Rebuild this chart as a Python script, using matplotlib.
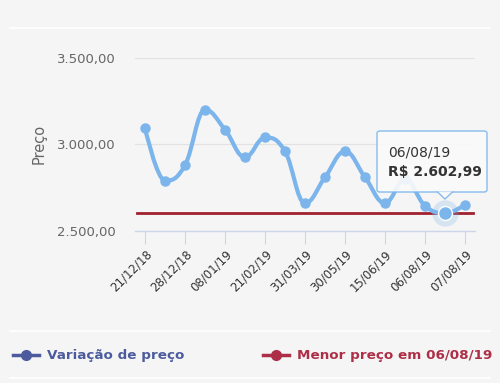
import numpy as np
import matplotlib.pyplot as plt
from matplotlib.path import Path
from matplotlib.patches import PathPatch, FancyBboxPatch, Polygon
from matplotlib.lines import Line2D

# price history (R$)
dates = ["21/12/18", "24/12/18", "28/12/18", "02/01/19", "08/01/19", "30/01/19",
         "21/02/19", "10/03/19", "31/03/19", "20/04/19", "30/05/19", "08/06/19",
         "15/06/19", "20/07/19", "06/08/19", "06/08/19", "07/08/19"]
prices = [3095, 2790, 2880, 3200, 3085, 2925, 3040, 2960, 2660, 2810,
          2960, 2810, 2660, 2800, 2645, 2602.99, 2650]
min_price = 2602.99
min_idx = 15

line_blue = "#7cb5ec"
legend_blue = "#4b5b9e"
red = "#a0222f"
legend_red = "#ad2f47"
bg = "#f5f5f5"


def spline_path(xs, ys):
    # Highcharts-like spline (smoothing 1.5)
    n = len(xs)
    lc = [(xs[i], ys[i]) for i in range(n)]
    rc = [(xs[i], ys[i]) for i in range(n)]
    for i in range(1, n - 1):
        px, py = xs[i], ys[i]
        lx, ly = xs[i - 1], ys[i - 1]
        nx, ny = xs[i + 1], ys[i + 1]
        lcx = (1.5 * px + lx) / 2.5
        lcy = (1.5 * py + ly) / 2.5
        rcx = (1.5 * px + nx) / 2.5
        rcy = (1.5 * py + ny) / 2.5
        corr = ((rcy - lcy) * (rcx - px)) / (rcx - lcx) + py - rcy
        lcy += corr
        rcy += corr
        if lcy > ly and lcy > py:
            lcy = max(ly, py)
            rcy = 2 * py - lcy
        elif lcy < ly and lcy < py:
            lcy = min(ly, py)
            rcy = 2 * py - lcy
        if rcy > ny and rcy > py:
            rcy = max(ny, py)
            lcy = 2 * py - rcy
        elif rcy < ny and rcy < py:
            rcy = min(ny, py)
            lcy = 2 * py - rcy
        lc[i] = (lcx, lcy)
        rc[i] = (rcx, rcy)
    verts = [(xs[0], ys[0])]
    codes = [Path.MOVETO]
    for i in range(1, n):
        verts += [rc[i - 1], lc[i], (xs[i], ys[i])]
        codes += [Path.CURVE4] * 3
    return Path(verts, codes)


def px(xp, yp):
    # pixel position (from top-left) -> figure fraction
    return xp / 500, 1 - yp / 383


fig = plt.figure(figsize=(5, 3.83), dpi=100)
fig.patch.set_facecolor(bg)
ax = fig.add_axes([0.27, 0.397, 0.68, 0.452])
ax.set_facecolor(bg)

x = np.arange(len(prices))
ax.set_xlim(-0.5, len(prices) - 0.5)
ax.set_ylim(2500, 3500)

ax.yaxis.grid(True, color="#e2e2e2", linewidth=0.8)
ax.set_axisbelow(True)

# minimum price line
ax.plot([-0.4, len(prices) - 0.6], [min_price, min_price], color=red, linewidth=2, zorder=2)

# smooth price line (spline in display space)
disp = ax.transData.transform(np.column_stack([x, prices]))
path = spline_path(disp[:, 0], disp[:, 1])
ax.add_patch(PathPatch(path, transform=None, facecolor="none", edgecolor=line_blue,
                       linewidth=3, capstyle="round", joinstyle="round", zorder=3))
ax.plot(x, prices, "o", color=line_blue, markersize=6.5, zorder=4)
# hovered point with halo
ax.plot(x[min_idx], prices[min_idx], "o", color=line_blue, markersize=19, alpha=0.25,
        markeredgewidth=0, zorder=4)
ax.plot(x[min_idx], prices[min_idx], "o", color=line_blue, markersize=10,
        markeredgecolor="white", markeredgewidth=1, zorder=5)

for s in ["top", "right", "left"]:
    ax.spines[s].set_visible(False)
ax.spines["bottom"].set_color("#ccd6eb")
ax.spines["bottom"].set_linewidth(1)

ax.set_yticks([2500, 3000, 3500])
ax.set_yticklabels(["2.500,00", "3.000,00", "3.500,00"], color="#666666", fontsize=9.5)
ax.tick_params(axis="y", length=0, pad=14)

ax.set_xticks(x[::2])
ax.set_xticklabels(dates[::2], rotation=45, ha="right", rotation_mode="anchor",
                   fontsize=8.5, color="#333333")
ax.tick_params(axis="x", length=9, color="#ccd6eb", pad=3)

ax.set_ylabel("Preço", color="#666666", fontsize=10.5, labelpad=7)

# tooltip
tx0, ty0 = px(377, 192)
tx1, ty1 = px(487, 131)
box = FancyBboxPatch((tx0, ty0), tx1 - tx0, ty1 - ty0, boxstyle="round,pad=0,rounding_size=0.006",
                     transform=fig.transFigure, facecolor="#fafafa", edgecolor=line_blue,
                     linewidth=1, alpha=0.9, zorder=10)
fig.patches.append(box)
arrow = Polygon([px(437, 191.5), px(445, 199), px(453, 191.5)], closed=False,
                transform=fig.transFigure, facecolor="#fafafa", edgecolor=line_blue,
                linewidth=1, alpha=0.9, zorder=11)
fig.patches.append(arrow)
fig.text(*px(388, 152), dates[min_idx], fontsize=10, color="#333333",
         va="center", zorder=12)
price_txt = f"{min_price:,.2f}".replace(",", "X").replace(".", ",").replace("X", ".")
fig.text(*px(388, 172), "R$ " + price_txt,
         fontsize=10, fontweight="bold", color="#333333", va="center", zorder=12)

# separator lines
for yy in [28, 331, 378]:
    fig.add_artist(Line2D([10 / 500, 490 / 500], [1 - yy / 383] * 2, color="white", linewidth=1.2))

# legend
ly = 1 - 355 / 383
fig.add_artist(Line2D([13 / 500, 39 / 500], [ly, ly], color=legend_blue, linewidth=2.5))
fig.add_artist(Line2D([26 / 500], [ly], color=legend_blue, marker="o", markersize=7, linestyle="none"))
fig.text(47 / 500, ly, "Variação de preço", color=legend_blue, fontsize=9.7,
         fontweight="bold", va="center")
fig.add_artist(Line2D([263 / 500, 289 / 500], [ly, ly], color=legend_red, linewidth=2.5))
fig.add_artist(Line2D([276 / 500], [ly], color=legend_red, marker="o", markersize=7, linestyle="none"))
fig.text(297 / 500, ly, "Menor preço em " + dates[min_idx], color=legend_red, fontsize=9.7,
         fontweight="bold", va="center")

fig.savefig("out.png", dpi=100, facecolor=bg)
